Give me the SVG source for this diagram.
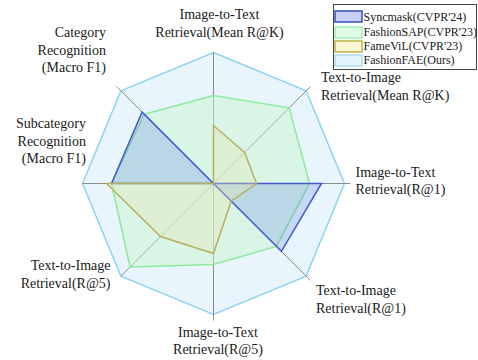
<svg xmlns="http://www.w3.org/2000/svg" width="478" height="360" viewBox="0 0 478 360">
<style>
text{font-family:"Liberation Serif","Times New Roman",serif;fill:#1a1a1a}
.lbl{font-size:14px}
.leg{font-size:12px}
.ax{stroke:#8a8a8a;stroke-width:1;fill:none}
.fae{fill:#E8F5FD;stroke:#8FD3F3;stroke-width:1.5;stroke-linejoin:miter}
.sap{fill:#C8F5D0;fill-opacity:0.5;stroke:#8EE8A0;stroke-width:1.5}
.syn{fill:#4060E0;fill-opacity:0.2;stroke:#4458D0;stroke-width:1.5}
.fam{fill:#E8E8B0;fill-opacity:0.35;stroke:#B8B060;stroke-width:1.5}
</style>
<rect width="478" height="360" fill="#fff"/>
<g id="series-fae">
<polygon class="fae" points="213.5,52.5 306.1,90.9 344.5,183.5 306.1,276.1 213.5,314.5 120.9,276.1 82.5,183.5 120.9,90.9"/>
</g>
<g id="axes">
<line class="ax" x1="213.5" y1="183.5" x2="213.5" y2="52.5"/>
<line class="ax" x1="213.5" y1="183.5" x2="310.4" y2="86.6"/>
<line class="ax" x1="213.5" y1="183.5" x2="350.5" y2="183.5"/>
<line class="ax" x1="213.5" y1="183.5" x2="310.4" y2="280.4"/>
<line class="ax" x1="213.5" y1="183.5" x2="213.5" y2="320.5"/>
<line class="ax" x1="213.5" y1="183.5" x2="120.9" y2="276.1"/>
<line class="ax" x1="213.5" y1="183.5" x2="82.5" y2="183.5"/>
<line class="ax" x1="213.5" y1="183.5" x2="116.6" y2="86.6"/>
</g>
<g id="series-sap">
<polygon class="sap" points="213.5,95.5 289.2,107.8 309.5,183.5 276.4,246.4 213.5,264.5 130.1,266.9 111.5,183.5 144.2,114.2"/>
</g>
<g id="series-syncmask">
<polygon class="syn" points="213.5,183.5 213.5,183.5 321.5,183.5 281.4,251.4 213.5,183.5 213.5,183.5 111.5,183.5 142.1,112.1"/>
</g>
<g id="series-famevil">
<polygon class="fam" points="213.5,125.5 244.6,152.4 256.5,183.5 231.2,201.2 213.5,253.5 160.5,236.5 106.5,183.5 213.5,183.5"/>
</g>
<g id="labels">
<text class="lbl" x="219.5" y="18.5" text-anchor="middle">Image-to-Text</text>
<text class="lbl" x="219.5" y="36.5" text-anchor="middle">Retrieval(Mean R@K)</text>
<text class="lbl" x="321" y="81.5">Text-to-Image</text>
<text class="lbl" x="321" y="100">Retrieval(Mean R@K)</text>
<text class="lbl" x="355.5" y="177">Image-to-Text</text>
<text class="lbl" x="355.5" y="194">Retrieval(R@1)</text>
<text class="lbl" x="316" y="295">Text-to-Image</text>
<text class="lbl" x="316" y="313">Retrieval(R@1)</text>
<text class="lbl" x="218" y="336.5" text-anchor="middle">Image-to-Text</text>
<text class="lbl" x="218" y="353.5" text-anchor="middle">Retrieval(R@5)</text>
<text class="lbl" x="110.5" y="270" text-anchor="end">Text-to-Image</text>
<text class="lbl" x="110.5" y="288" text-anchor="end">Retrieval(R@5)</text>
<text class="lbl" x="86" y="128" text-anchor="end">Subcategory</text>
<text class="lbl" x="86" y="145.5" text-anchor="end">Recognition</text>
<text class="lbl" x="86" y="163" text-anchor="end">(Macro F1)</text>
<text class="lbl" x="106" y="37" text-anchor="end">Category</text>
<text class="lbl" x="106" y="54.5" text-anchor="end">Recognition</text>
<text class="lbl" x="106" y="72" text-anchor="end">(Macro F1)</text>
</g>
<g id="legend">
<rect x="333.5" y="4.5" width="143" height="65" fill="#fff" stroke="#444" stroke-width="1"/>
<rect x="335" y="11" width="27" height="11" fill="#C8D0F8" stroke="#3550C0" stroke-width="1.5"/>
<rect x="335" y="27" width="27" height="11" fill="#E2FCE8" stroke="#A0F0B0" stroke-width="1.5"/>
<rect x="335" y="41" width="27" height="11" fill="#FAF8D2" stroke="#C0B448" stroke-width="1.5"/>
<rect x="335" y="55" width="27" height="11" fill="#E4F4FC" stroke="#A8DCF4" stroke-width="1.5"/>
<text class="leg" x="363.5" y="20.5">Syncmask(CVPR'24)</text>
<text class="leg" x="363.5" y="36">FashionSAP(CVPR'23)</text>
<text class="leg" x="363.5" y="50">FameViL(CVPR'23)</text>
<text class="leg" x="363.5" y="64">FashionFAE(Ours)</text>
</g>
</svg>
